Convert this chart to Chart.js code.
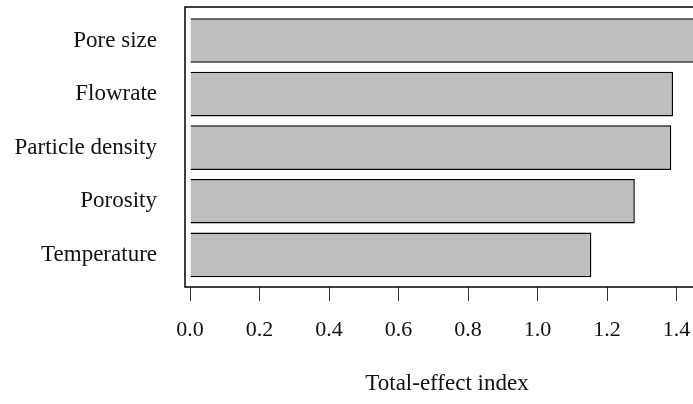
<!DOCTYPE html>
<html>
<head>
<meta charset="utf-8">
<script src="https://cdn.jsdelivr.net/npm/chart.js@4.4.1/dist/chart.umd.min.js"></script>
<style>
  html, body { margin: 0; padding: 0; background: #fff; overflow: hidden; }
  #wrap { width: 720px; height: 404px; }
</style>
</head>
<body>
<div id="wrap"><canvas id="c" width="720" height="404"></canvas></div>
<script>
const categories = ["Pore size", "Flowrate", "Particle density", "Porosity", "Temperature"];
const totalEffect = [1.47, 1.39, 1.385, 1.28, 1.155];
const xTickValues = [0.0, 0.2, 0.4, 0.6, 0.8, 1.0, 1.2, 1.4];
const xTitle = "Total-effect index";

const serif = "'Liberation Serif', 'Times New Roman', serif";

const boxPlugin = {
  id: 'box',
  afterDatasetsDraw(chart) {
    const a = chart.chartArea, ctx = chart.ctx;
    ctx.save();
    ctx.strokeStyle = '#000';
    ctx.lineWidth = 1.5;
    ctx.strokeRect(a.left, a.top, a.right - a.left, a.bottom - a.top);
    ctx.restore();
  }
};

new Chart(document.getElementById('c'), {
  type: 'bar',
  data: {
    datasets: [{
      data: totalEffect.map((v, i) => ({ x: v, y: i })),
      backgroundColor: '#bebebe',
      borderColor: '#000',
      borderWidth: 1.5,
      barPercentage: 0.833,
      categoryPercentage: 1.0
    }]
  },
  plugins: [boxPlugin],
  options: {
    indexAxis: 'y',
    responsive: false,
    animation: false,
    devicePixelRatio: 1,
    layout: { padding: { top: 7, right: 11, left: 0, bottom: 0 } },
    plugins: { legend: { display: false }, tooltip: { enabled: false } },
    scales: {
      x: {
        type: 'linear',
        min: -0.0144,
        max: 1.4935,
        afterBuildTicks(s) {
          s.ticks = xTickValues.map(v => ({ value: v }));
        },
        afterFit(s) { s.height = 117; },
        border: { display: false },
        grid: { display: true, drawOnChartArea: false, drawTicks: true, tickLength: 14, color: '#333', lineWidth: 1 },
        ticks: {
          padding: 16,
          color: '#111',
          font: { family: serif, size: 22 },
          maxRotation: 0,
          autoSkip: false,
          callback: v => Number(v).toFixed(1)
        },
        title: {
          display: true,
          text: xTitle,
          color: '#111',
          font: { family: serif, size: 23 },
          padding: { top: 0, bottom: 6 }
        }
      },
      y: {
        type: 'linear',
        reverse: true,
        offset: false,
        min: -0.625,
        max: 4.6,
        afterBuildTicks(s) {
          s.ticks = categories.map((c, i) => ({ value: i }));
        },
        afterFit(s) { s.width = 185; s.paddingTop = 0; s.paddingBottom = 0; },
        border: { display: false },
        grid: { display: true, offset: false, drawOnChartArea: false, drawTicks: true, tickLength: 28, color: 'rgba(0,0,0,0)' },
        ticks: {
          padding: 0,
          color: '#111',
          font: { family: serif, size: 23, lineHeight: 0.1 },
          autoSkip: false,
          callback: v => categories[v] !== undefined ? categories[v] : ''
        }
      }
    }
  }
});
</script>
</body>
</html>
